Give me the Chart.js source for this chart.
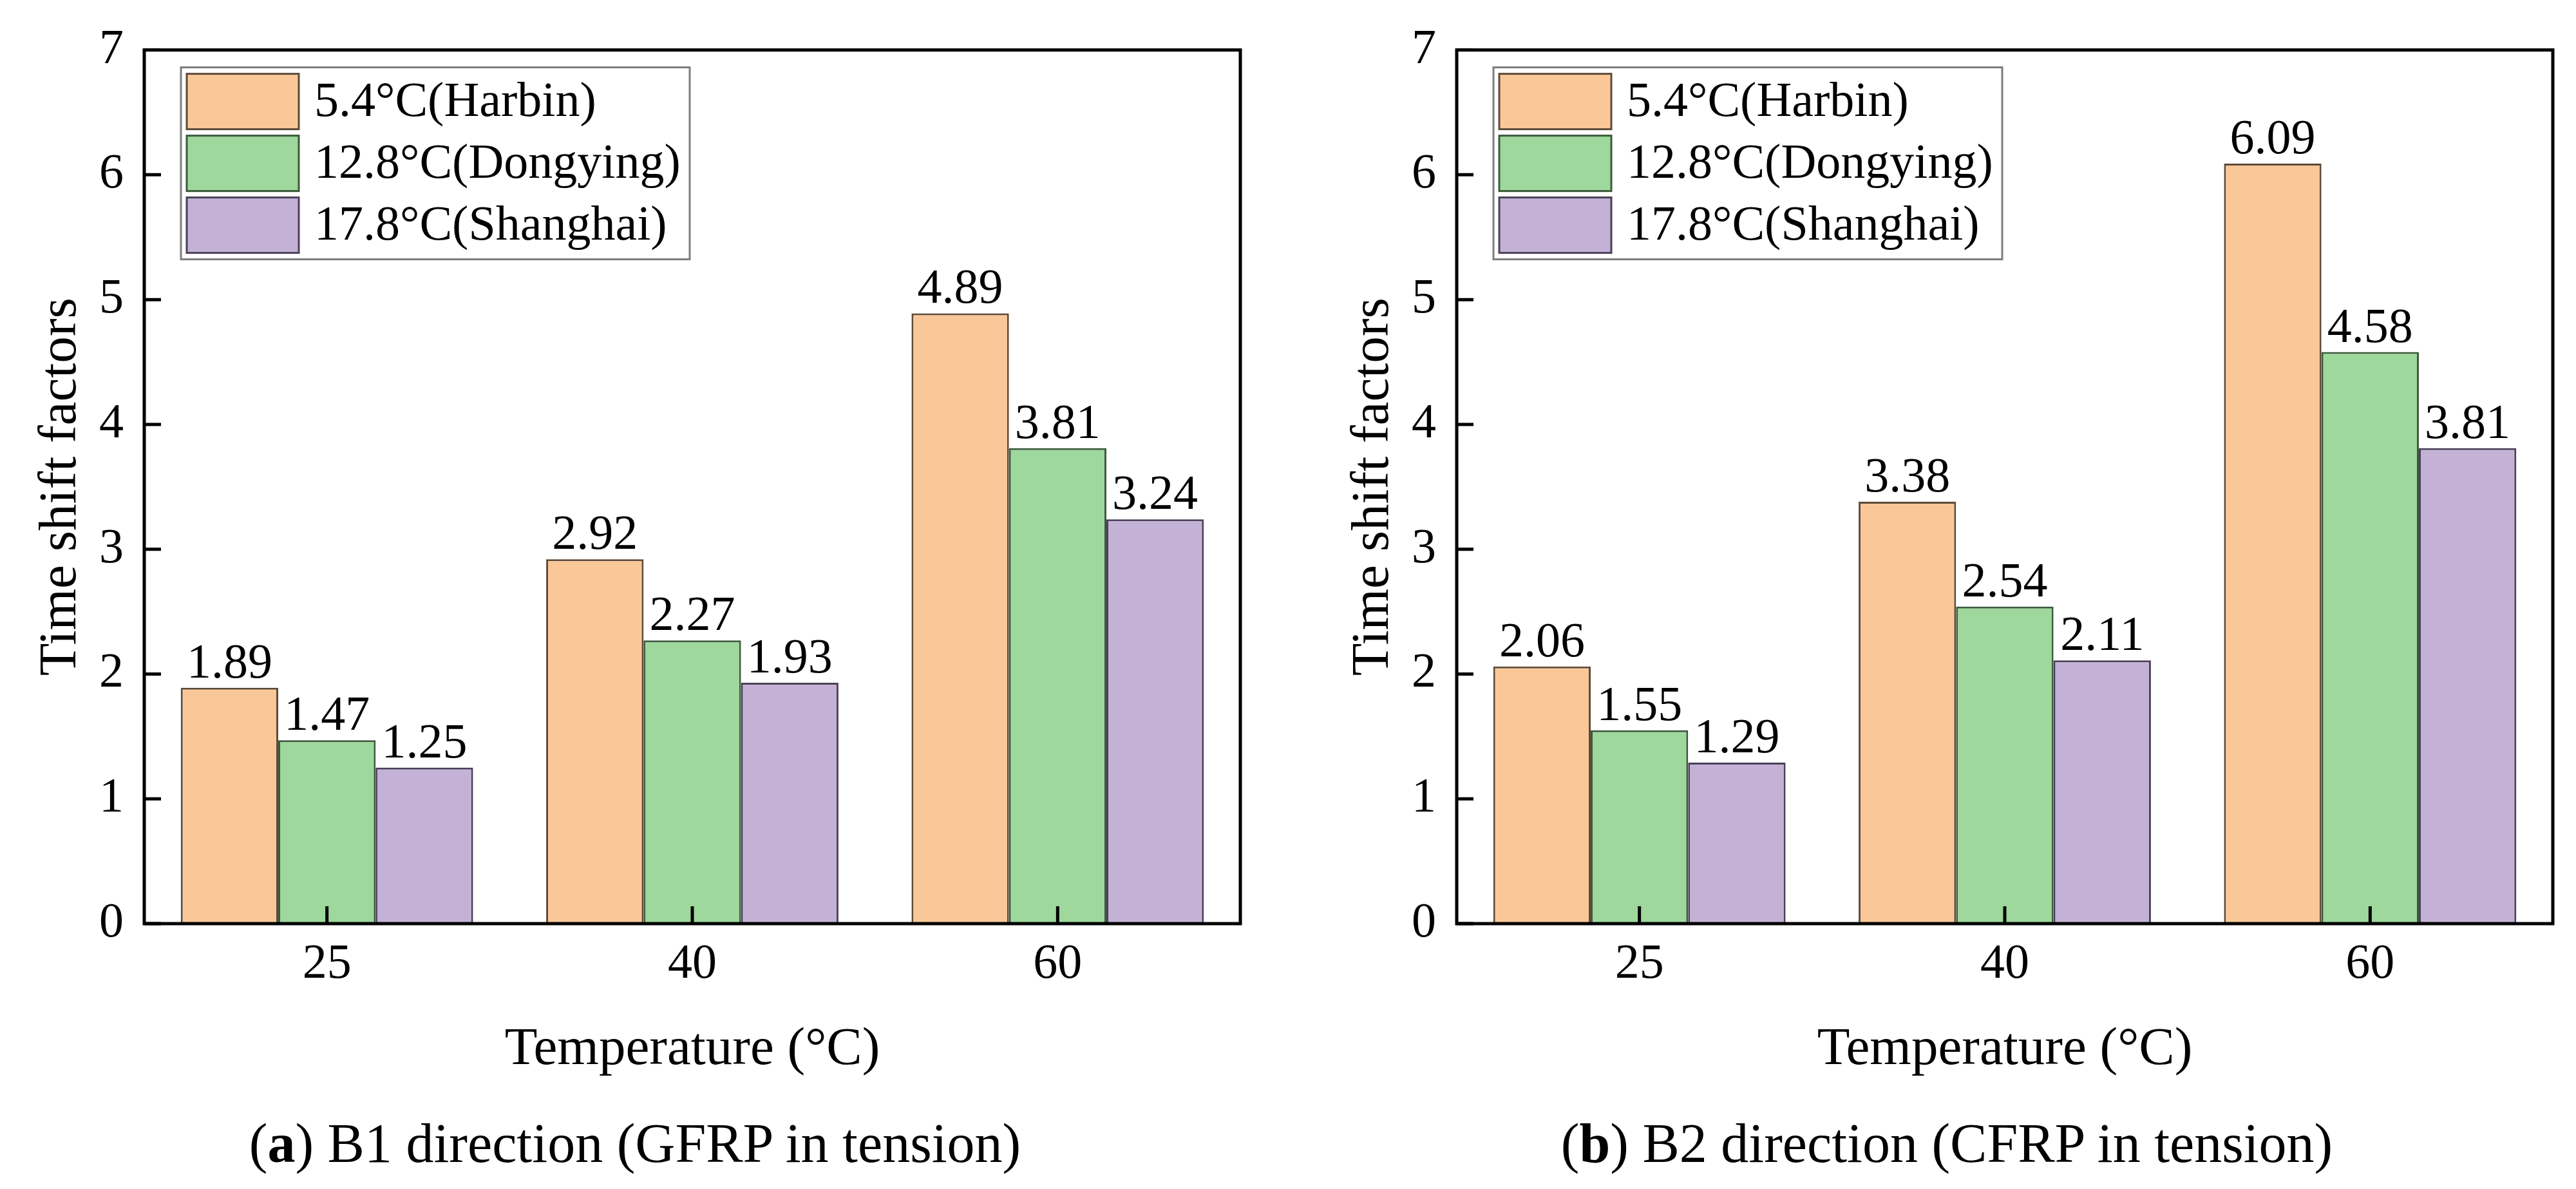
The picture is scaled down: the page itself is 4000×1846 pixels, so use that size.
<!DOCTYPE html>
<html>
<head>
<meta charset="utf-8">
<script src="https://cdn.jsdelivr.net/npm/chart.js@4.4.1/dist/chart.umd.min.js"></script>
<style>
  body { margin: 0; background: #fff; }
  #page { position: relative; width: 4000px; height: 1846px; overflow: hidden; background: #fff; }
  canvas { position: absolute; top: 0; }
  .caption { position: absolute; top: 1725px; width: 1972px; height: 100px; line-height: 100px; text-align: center; font-family: "Liberation Serif", "DejaVu Serif", serif; font-size: 86px; color: #000; }
</style>
</head>
<body>
<div id="page">
  <canvas id="idCanv_b1" width="2000" height="1846" style="left:0px"></canvas>
  <canvas id="idCanv_b2" width="1962" height="1846" style="left:2038px"></canvas>
  <div class="caption" style="left:0px">(<b>a</b>) B1 direction (GFRP in tension)</div>
  <div class="caption" style="left:2037px">(<b>b</b>) B2 direction (CFRP in tension)</div>
</div>
<script>
const categories = ["25", "40", "60"];
const seriesLabels = ["5.4°C(Harbin)", "12.8°C(Dongying)", "17.8°C(Shanghai)"];
const fillColors = ["#FAC898", "#9ED89C", "#C3B2D6"];
const edgeColors = ["#5e4a38", "#3c5a3c", "#4a4058"];

// B1 direction, GFRP in tension
const b1Harbin = [1.89, 2.92, 4.89];
const b1Dongying = [1.47, 2.27, 3.81];
const b1Shanghai = [1.25, 1.93, 3.24];

// B2 direction, CFRP in tension
const b2Harbin = [2.06, 3.38, 6.09];
const b2Dongying = [1.55, 2.54, 4.58];
const b2Shanghai = [1.29, 2.11, 3.81];

const yMin = 0;
const yMax = 7;
const yStep = 1;

const fontFam = '"Liberation Serif", "DejaVu Serif", serif';

// frame round the plot and inward tick marks
const framePlugin = {
  id: "frame",
  afterDatasetsDraw(chart) {
    const { ctx, chartArea } = chart;
    const yScale = chart.scales.y;
    const xScale = chart.scales.x;
    ctx.save();
    ctx.strokeStyle = "#000";
    ctx.lineWidth = 5;
    ctx.strokeRect(chartArea.left, chartArea.top, chartArea.right - chartArea.left, chartArea.bottom - chartArea.top);
    ctx.beginPath();
    yScale.ticks.forEach((t) => {
      const py = yScale.getPixelForValue(t.value);
      ctx.moveTo(chartArea.left, py);
      ctx.lineTo(chartArea.left + 26, py);
    });
    categories.forEach((c, i) => {
      const px = xScale.getPixelForValue(i);
      ctx.moveTo(px, chartArea.bottom);
      ctx.lineTo(px, chartArea.bottom - 27);
    });
    ctx.stroke();
    ctx.restore();
  },
};

// values written above each bar
const valuePlugin = {
  id: "values",
  afterDatasetsDraw(chart) {
    const { ctx } = chart;
    ctx.save();
    ctx.font = `76px ${fontFam}`;
    ctx.fillStyle = "#000";
    ctx.textAlign = "center";
    ctx.textBaseline = "alphabetic";
    chart.data.datasets.forEach((ds, di) => {
      chart.getDatasetMeta(di).data.forEach((bar, i) => {
        ctx.fillText(ds.data[i].toFixed(2), bar.x, bar.y - 16);
      });
    });
    ctx.restore();
  },
};

// legend in a box, top left inside the plot
const boxLegendPlugin = {
  id: "boxLegend",
  afterDraw(chart) {
    const { ctx, chartArea } = chart;
    const bx = chartArea.left + 57;
    const by = chartArea.top + 27;
    ctx.save();
    ctx.fillStyle = "#fff";
    ctx.fillRect(bx, by, 790, 298);
    ctx.strokeStyle = "#7d7d7d";
    ctx.lineWidth = 3;
    ctx.strokeRect(bx, by, 790, 298);
    ctx.font = `76px ${fontFam}`;
    ctx.textBaseline = "middle";
    ctx.textAlign = "left";
    chart.data.datasets.forEach((ds, i) => {
      const sy = by + 10 + i * 96;
      ctx.fillStyle = ds.backgroundColor;
      ctx.fillRect(bx + 9, sy, 174, 86);
      ctx.strokeStyle = ds.borderColor;
      ctx.lineWidth = 3;
      ctx.strokeRect(bx + 9, sy, 174, 86);
      ctx.fillStyle = "#000";
      ctx.fillText(ds.label, bx + 207, sy + 45);
    });
    ctx.restore();
  },
};

function makeDatasets(seriesList) {
  return seriesList.map((values, i) => ({
    label: seriesLabels[i],
    data: values,
    backgroundColor: fillColors[i],
    borderColor: edgeColors[i],
    borderWidth: 3,
    barPercentage: 1.0,
    categoryPercentage: 0.8,
  }));
}

function makeChart(canvasId, seriesList, rightPad) {
  return new Chart(document.getElementById(canvasId), {
    type: "bar",
    data: {
      labels: categories,
      datasets: makeDatasets(seriesList),
    },
    options: {
      responsive: false,
      animation: false,
      devicePixelRatio: 1,
      layout: {
        padding: { left: 0, top: 63, right: rightPad, bottom: 152 },
      },
      plugins: {
        legend: { display: false },
        title: { display: false },
        tooltip: { enabled: false },
      },
      scales: {
        x: {
          grid: { display: false, drawTicks: false },
          border: { display: false },
          ticks: {
            color: "#000",
            padding: 18,
            font: { family: fontFam, size: 76 },
          },
          title: {
            display: true,
            text: "Temperature (°C)",
            color: "#000",
            padding: { top: 0, bottom: 14 },
            font: { family: fontFam, size: 83 },
          },
          afterFit(scale) {
            scale.height = 260;
          },
        },
        y: {
          min: yMin,
          max: yMax,
          grid: { display: false, drawTicks: false },
          border: { display: false },
          ticks: {
            stepSize: yStep,
            color: "#000",
            padding: 32,
            font: { family: fontFam, size: 76 },
          },
          title: {
            display: true,
            text: "Time shift factors",
            color: "#000",
            padding: { top: 45, bottom: 0 },
            font: { family: fontFam, size: 83 },
          },
          afterFit(scale) {
            scale.width = 224;
          },
        },
      },
    },
    plugins: [framePlugin, valuePlugin, boxLegendPlugin],
  });
}

makeChart("idCanv_b1", [b1Harbin, b1Dongying, b1Shanghai], 74);
makeChart("idCanv_b2", [b2Harbin, b2Dongying, b2Shanghai], 36);
</script>
</body>
</html>
